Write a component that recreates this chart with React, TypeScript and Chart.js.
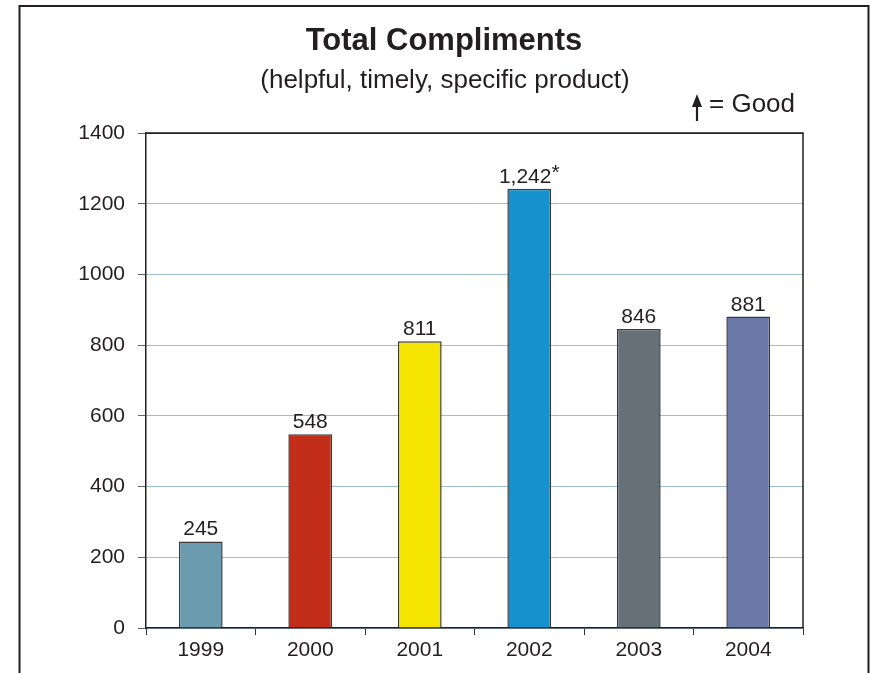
import React, { useEffect, useRef } from "react";
import { Chart, registerables } from "chart.js";

Chart.register(...registerables);

const categories = ["1999", "2000", "2001", "2002", "2003", "2004"];
const compliments = [245, 548, 811, 1242, 846, 881];
const footnotes = ["", "", "", "*", "", ""];
const barColors = ["#6B9BAF", "#C22E1A", "#F5E400", "#1592CE", "#657177", "#6978A6"];
const yMin = 0;
const yMax = 1400;
const yStep = 200;
const titleText = "Total Compliments";
const subtitleText = "(helpful, timely, specific product)";
const legendText = "= Good";

const FONT = "'Liberation Sans', Arial, sans-serif";
const TEXT = "#231F20";

const fmt = (v: number) => v.toLocaleString("en-US");

const decorPlugin = {
  id: "decor",
  beforeDraw(chart: any) {
    const { ctx, width, height } = chart;
    ctx.save();
    ctx.fillStyle = "#ffffff";
    ctx.fillRect(0, 0, width, height);
    ctx.restore();
  },
  afterDraw(chart: any) {
    const { ctx, chartArea } = chart;
    ctx.save();
    // outer frame (left, top, right)
    ctx.strokeStyle = "#231F20";
    ctx.lineWidth = 2;
    ctx.beginPath();
    ctx.moveTo(19.5, 673);
    ctx.lineTo(19.5, 6);
    ctx.lineTo(868.5, 6);
    ctx.lineTo(868.5, 673);
    ctx.stroke();
    // plot frame top & right
    ctx.lineWidth = 1.5;
    ctx.beginPath();
    ctx.moveTo(chartArea.left, chartArea.top);
    ctx.lineTo(chartArea.right, chartArea.top);
    ctx.lineTo(chartArea.right, chartArea.bottom);
    ctx.stroke();
    // titles
    ctx.fillStyle = TEXT;
    ctx.textAlign = "center";
    ctx.textBaseline = "alphabetic";
    ctx.font = `bold 31px ${FONT}`;
    ctx.fillText(titleText, 444, 50);
    ctx.font = `26px ${FONT}`;
    ctx.fillText(subtitleText, 445, 88);
    // legend arrow
    ctx.beginPath();
    ctx.moveTo(697, 94);
    ctx.lineTo(702, 107);
    ctx.lineTo(692, 107);
    ctx.closePath();
    ctx.fill();
    ctx.lineWidth = 2.2;
    ctx.beginPath();
    ctx.moveTo(697, 104);
    ctx.lineTo(697, 121);
    ctx.stroke();
    ctx.textAlign = "left";
    ctx.fillText(legendText, 709, 112);
    // value labels
    const meta = chart.getDatasetMeta(0);
    ctx.font = `21px ${FONT}`;
    meta.data.forEach((bar: any, i: number) => {
      const main = fmt(compliments[i]);
      const note = footnotes[i];
      const wMain = ctx.measureText(main).width;
      const wNote = note ? ctx.measureText(note).width : 0;
      const start = bar.x - (wMain + wNote) / 2;
      const y = bar.y - 6;
      ctx.textAlign = "left";
      ctx.fillText(main, start, y);
      if (note) ctx.fillText(note, start + wMain, y - 4);
    });
    ctx.restore();
  },
};

export default function App() {
  const ref = useRef<HTMLCanvasElement | null>(null);
  useEffect(() => {
    document.body.style.margin = "0";
    document.body.style.overflow = "hidden";
    const canvas = ref.current;
    if (!canvas) return;
    const chart = new Chart(canvas, {
      type: "bar",
      data: {
        labels: categories,
        datasets: [
          {
            data: compliments,
            backgroundColor: barColors,
            borderColor: "#3A3A3A",
            borderWidth: 1.5,
            barPercentage: 0.4,
            categoryPercentage: 1,
          },
        ],
      },
      options: {
        animation: false,
        responsive: false,
        devicePixelRatio: 1,
        layout: { padding: { left: 0, top: 133, right: 68, bottom: 0 } },
        plugins: { legend: { display: false }, tooltip: { enabled: false }, title: { display: false } },
        scales: {
          x: {
            grid: { offset: true, drawOnChartArea: false, tickLength: 7, tickColor: "#333", tickWidth: 1 },
            border: { color: "#231F20", width: 1.5 },
            ticks: { color: TEXT, font: { family: FONT, size: 21 }, padding: 3, maxRotation: 0 },
            afterFit: (s: any) => {
              s.height = 45;
            },
          },
          y: {
            min: yMin,
            max: yMax,
            grid: {
              color: (c: any) => (c.tick && c.tick.value === yMax ? "#231F20" : "#9DBDD0"),
              tickLength: 8,
              tickColor: "#666",
              lineWidth: 1,
            },
            border: { color: "#231F20", width: 1.5 },
            ticks: {
              stepSize: yStep,
              color: TEXT,
              font: { family: FONT, size: 21 },
              padding: 13,
              callback: (v: any) => String(v),
            },
            afterFit: (s: any) => {
              s.width = 146;
            },
          },
        },
      },
      plugins: [decorPlugin],
    });
    return () => chart.destroy();
  }, []);
  return <canvas ref={ref} width={871} height={673} style={{ display: "block" }} />;
}
